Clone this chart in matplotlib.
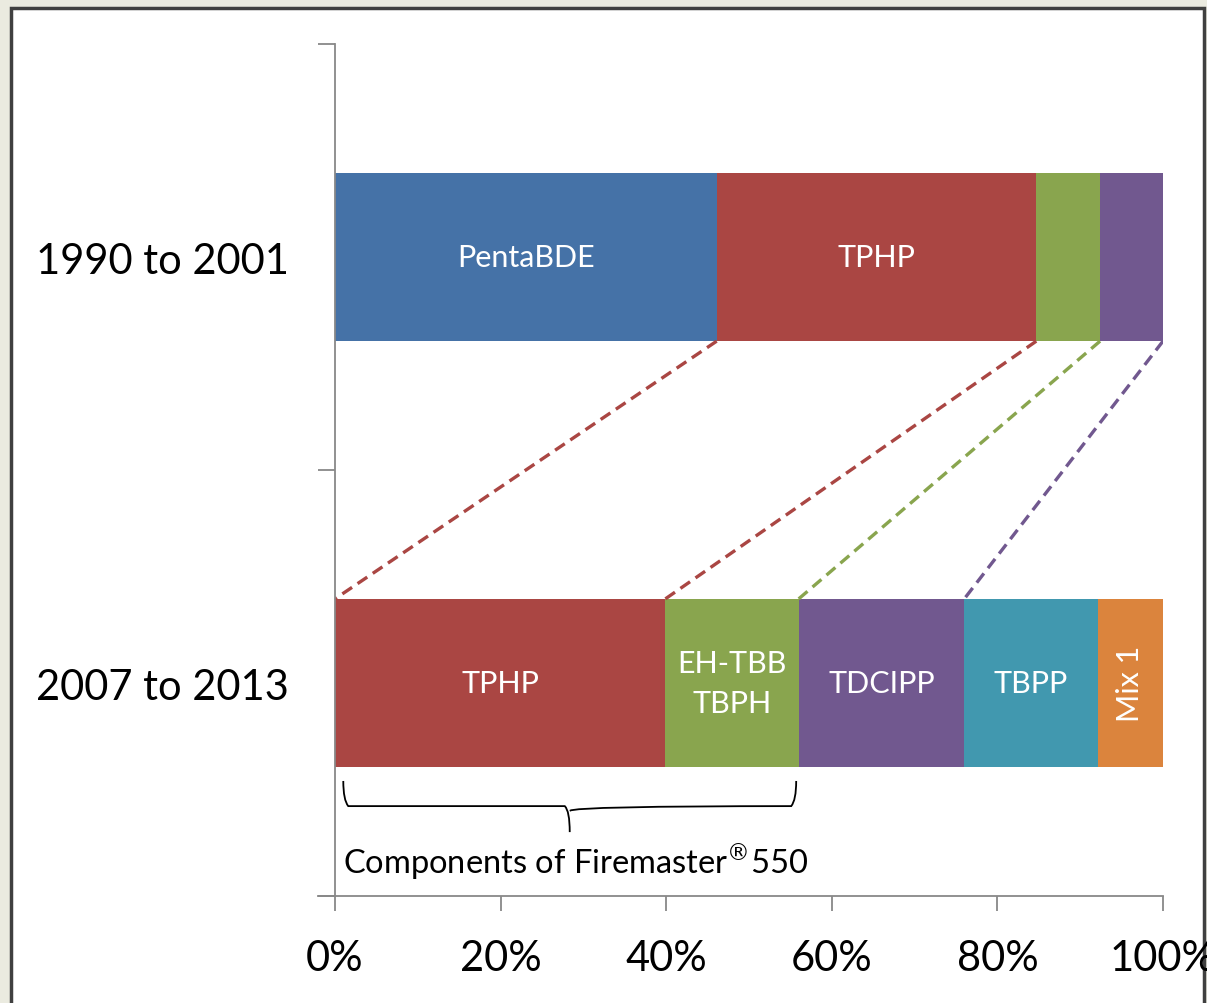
import matplotlib.pyplot as plt
from matplotlib.patches import Rectangle
from matplotlib.path import Path
from matplotlib.patches import PathPatch

plt.rcParams['font.family'] = ['Lato', 'DejaVu Sans']

periods = ["1990 to 2001", "2007 to 2013"]

# top bar (1990 to 2001)
top_names = ["PentaBDE", "TPHP", "FM550", "TDCIPP"]
top_values = [46.1, 38.6, 7.7, 7.6]
top_labels = ["PentaBDE", "TPHP", "", ""]

# bottom bar (2007 to 2013)
bot_names = ["TPHP", "FM550", "TDCIPP", "TBPP", "Mix1"]
bot_values = [39.9, 16.1, 20.0, 16.1, 7.9]
bot_labels = ["TPHP", "EH-TBB\nTBPH", "TDCIPP", "TBPP", "Mix 1"]

colors = {"PentaBDE": "#4572A7", "TPHP": "#AA4643", "FM550": "#89A54E",
          "TDCIPP": "#71588F", "TBPP": "#4198AF", "Mix1": "#DB843D"}

fig = plt.figure(figsize=(12.07, 10.04), dpi=100, facecolor="#EBEBE0")
# white panel with dark frame
fig.patches.append(Rectangle((11 / 1207, -0.05), (1204 - 11) / 1207, 1 - 9 / 1004 + 0.05,
                             transform=fig.transFigure, facecolor="white",
                             edgecolor="#404040", linewidth=2.5, zorder=-10))

ax = fig.add_axes([335 / 1207, 1 - 897 / 1004, (1163 - 335) / 1207, (897 - 45) / 1004])
ax.set_facecolor("none")

bar_h = 0.395


def draw_bar(y, names, values, labels):
    left = 0
    edges = {}
    for n, v, lab in zip(names, values, labels):
        ax.barh(y, v, left=left, height=bar_h, color=colors[n], linewidth=0)
        edges[n] = (left, left + v)
        cx = left + v / 2
        if lab == "Mix 1":
            ax.text(cx, y, lab, color="white", fontsize=22, rotation=90,
                    ha="center", va="center")
        elif lab:
            ax.text(cx, y, lab, color="white", fontsize=22, ha="center",
                    va="center", linespacing=1.5)
        left += v
    return edges


top_edges = draw_bar(0, top_names, top_values, top_labels)
bot_edges = draw_bar(1, bot_names, bot_values, bot_labels)

# dashed connectors between matching compounds
y0, y1 = bar_h / 2, 1 - bar_h / 2
ax.plot([top_edges["TPHP"][0], bot_edges["TPHP"][0]], [y0, y1],
        ls=(0, (3.5, 2)), color=colors["TPHP"], lw=2.4)
for n in ["TPHP", "FM550", "TDCIPP"]:
    ax.plot([top_edges[n][1], bot_edges[n][1]], [y0, y1],
            ls=(0, (3.5, 2)), color=colors[n], lw=2.4)

# brace under Firemaster 550 components
bx0, bx1 = 1.0, 55.7
bm = (bx0 + bx1) / 2
verts = [(bx0, 1.23), (bx0, 1.275), (bx0 + 0.6, 1.289),
         (bm - 0.6, 1.289), (bm, 1.30), (bm, 1.35),
         (bm, 1.30), (bm + 0.6, 1.289),
         (bx1 - 0.6, 1.289), (bx1, 1.275), (bx1, 1.23)]
codes = [Path.MOVETO, Path.CURVE3, Path.CURVE3, Path.LINETO, Path.CURVE3, Path.CURVE3,
         Path.MOVETO, Path.CURVE3, Path.LINETO, Path.CURVE3, Path.CURVE3]
ax.add_patch(PathPatch(Path(verts, codes), facecolor="none", edgecolor="black", lw=1.3))
ax.text(bx0, 1.418, r"Components of Firemaster$^{\circledR}$550", fontsize=23.5,
        ha="left", va="center", color="black")

ax.set_xlim(0, 100)
ax.set_ylim(1.5, -0.5)
ax.set_xticks([0, 20, 40, 60, 80, 100])
ax.set_xticklabels([f"{v}%" for v in [0, 20, 40, 60, 80, 100]], fontsize=30)
ax.set_yticks([-0.5, 0.5, 1.5])
ax.set_yticklabels([])
ax.set_yticks([0, 1], minor=True)
ax.set_yticklabels(periods, minor=True, fontsize=30)
ax.tick_params(axis="y", which="minor", length=0, pad=33)
ax.tick_params(axis="y", which="major", length=12, color="#888888", width=1.3)
ax.tick_params(axis="x", length=11, color="#888888", width=1.3, pad=20)

for s in ["top", "right"]:
    ax.spines[s].set_visible(False)
for s in ["left", "bottom"]:
    ax.spines[s].set_color("#888888")
    ax.spines[s].set_linewidth(1.3)
ax.spines["bottom"].set_bounds(-2.1, 100)

fig.savefig("out.png", dpi=100, facecolor=fig.get_facecolor())
